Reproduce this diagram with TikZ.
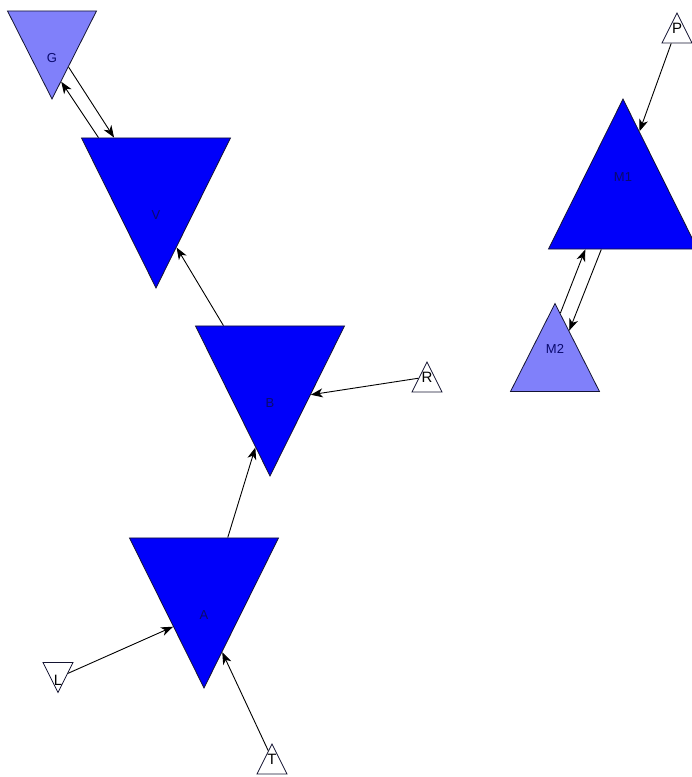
\documentclass[tikz,border=0pt]{standalone}
\usepackage{fontspec}
\setmainfont{Liberation Sans}
\usetikzlibrary{shapes.geometric, arrows.meta}
\definecolor{fullblue}{RGB}{0,0,250}
\definecolor{paleblue}{RGB}{128,128,250}
\definecolor{edgeline}{RGB}{20,20,50}
\definecolor{labelblue}{RGB}{10,10,110}
\begin{document}
\begin{tikzpicture}[x=1pt, y=-1pt,
    tri/.style={isosceles triangle, isosceles triangle stretches, inner sep=0pt,
        draw=edgeline, line width=0.8pt, anchor=apex},
    down/.style={tri, shape border rotate=270},
    up/.style={tri, shape border rotate=90},
    lbl/.style={font=\fontsize{13}{15}\selectfont, text=labelblue},
    slbl/.style={font=\fontsize{15}{17}\selectfont, text=black},
    big/.style={minimum width=149pt, minimum height=150pt, fill=fullblue},
    mid/.style={minimum width=89pt, minimum height=88pt, fill=paleblue},
    small/.style={minimum width=30pt, minimum height=30pt, fill=white},
    bigdown/.style={down, big, label={[lbl, yshift=-31pt]center:#1}},
    middown/.style={down, mid, label={[lbl, yshift=-19.5pt]center:#1}},
    smalldown/.style={down, small, label={[slbl, yshift=-9pt]center:#1}},
    bigup/.style={up, big, label={[lbl, yshift=26pt]center:#1}},
    midup/.style={up, mid, label={[lbl, yshift=15pt]center:#1}},
    smallup/.style={up, small, label={[slbl, yshift=5pt]center:#1}},
    conn/.style={-{Stealth[length=12pt, width=9pt, inset=3.5pt]}, line width=0.9pt, black}
]
    \useasboundingbox (0,0) rectangle (692,777);

    % Left chain
    \node[middown=G] (G) at (52,100) {};
    \node[bigdown=V] (V) at (156,289) {};
    \node[bigdown=B] (B) at (270,477) {};
    \node[bigdown=A] (A) at (204,689) {};
    \node[smalldown=L] (L) at (58,693.5) {};
    \node[smallup=T] (T) at (272,743) {};
    \node[smallup=R] (R) at (427,361) {};

    % Right pair
    \node[smallup=P] (P) at (677,12) {};
    \node[bigup=M1] (M1) at (623,98) {};
    \node[midup=M2] (M2) at (555,302.5) {};

    % Edges
    \draw[conn] (G.-60) -- (V.132);
    \draw[conn] (V.141) -- (G.-78);
    \draw[conn] (B.135) -- (V.-72);
    \draw[conn] (A.63) -- (B.-101);
    \draw[conn] (R.152) -- (B.-29);
    \draw[conn] (L.-9) -- (A.-126);
    \draw[conn] (T.105) -- (A.-75);
    \draw[conn] (P.-121) -- (M1.77);
    \draw[conn] (M2.84) -- (M1.-129);
    \draw[conn] (M1.-115) -- (M2.67);
\end{tikzpicture}
\end{document}
